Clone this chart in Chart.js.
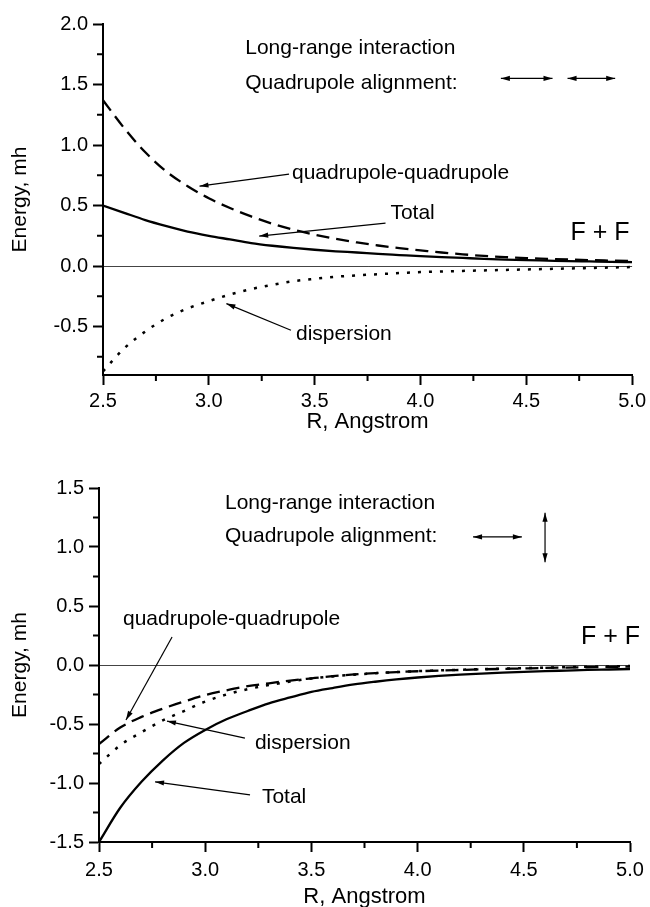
<!DOCTYPE html>
<html>
<head>
<meta charset="utf-8">
<script src="https://cdn.jsdelivr.net/npm/chart.js@4.4.0/dist/chart.umd.min.js"></script>
<style>
  html, body { margin: 0; padding: 0; background: #fff; overflow: hidden; }
  .panel { position: absolute; left: 0; width: 650px; }
  #topPanel { top: 0; height: 440px; }
  #bottomPanel { top: 440px; height: 470px; }
</style>
</head>
<body>
<div class="panel" id="topPanel"><canvas id="parallelChart"></canvas></div>
<div class="panel" id="bottomPanel"><canvas id="perpChart"></canvas></div>
<script>
/* global Chart */

// separation R in Angstrom
const rValues = [2.5, 2.6, 2.7, 2.8, 2.9, 3.0, 3.1, 3.2, 3.3, 3.4, 3.5, 3.6, 3.7,
  3.8, 3.9, 4.0, 4.1, 4.2, 4.3, 4.4, 4.5, 4.6, 4.7, 4.8, 4.9, 5.0];

const xTicks = [2.5, 3.0, 3.5, 4.0, 4.5, 5.0];
const xMinor = [2.75, 3.25, 3.75, 4.25, 4.75];
const topYTicks = [-0.5, 0.0, 0.5, 1.0, 1.5, 2.0];
const topYMinor = [-0.75, -0.25, 0.25, 0.75, 1.25, 1.75];
const bottomYTicks = [-1.5, -1.0, -0.5, 0.0, 0.5, 1.0, 1.5];
const bottomYMinor = [-1.25, -0.75, -0.25, 0.25, 0.75, 1.25];

// energies in mh, parallel quadrupoles
const parQuadQuad = [1.37, 1.14, 0.94, 0.78, 0.66, 0.56, 0.48, 0.41, 0.35, 0.30, 0.26, 0.225, 0.195,
  0.17, 0.148, 0.13, 0.112, 0.097, 0.084, 0.074, 0.066, 0.06, 0.054, 0.049, 0.045, 0.041];
const parDispersion = [-0.87, -0.68, -0.54, -0.43, -0.35, -0.29, -0.235, -0.19, -0.155, -0.125, -0.105, -0.088, -0.077,
  -0.067, -0.058, -0.05, -0.045, -0.04, -0.036, -0.032, -0.028, -0.024, -0.02, -0.016, -0.012, -0.008];
const parTotal = [0.50, 0.44, 0.38, 0.33, 0.285, 0.25, 0.22, 0.19, 0.168, 0.15, 0.135, 0.122, 0.112,
  0.10, 0.091, 0.082, 0.074, 0.067, 0.06, 0.054, 0.049, 0.045, 0.041, 0.038, 0.035, 0.033];

// energies in mh, perpendicular quadrupoles
const perpQuadQuad = [-0.67, -0.53, -0.44, -0.37, -0.31, -0.255, -0.215, -0.18, -0.155, -0.132, -0.113, -0.095, -0.08,
  -0.069, -0.06, -0.053, -0.047, -0.042, -0.037, -0.033, -0.029, -0.025, -0.022, -0.019, -0.016, -0.014];
const perpDispersion = [-0.84, -0.68, -0.57, -0.47, -0.39, -0.31, -0.25, -0.205, -0.17, -0.14, -0.115, -0.097, -0.082,
  -0.07, -0.06, -0.052, -0.046, -0.04, -0.035, -0.031, -0.027, -0.023, -0.019, -0.015, -0.012, -0.009];
const perpTotal = [-1.50, -1.21, -0.99, -0.81, -0.66, -0.55, -0.46, -0.39, -0.325, -0.275, -0.228, -0.195, -0.165,
  -0.142, -0.122, -0.106, -0.093, -0.082, -0.073, -0.065, -0.058, -0.052, -0.047, -0.042, -0.038, -0.034];

const FONT = '"Liberation Sans", Arial, Helvetica, sans-serif';
Chart.defaults.font.family = FONT;
Chart.defaults.color = "#000";

function points(values) {
  return rValues.map((r, i) => ({ x: r, y: values[i] }));
}

// short outward ticks between the labelled ones
const minorTicks = {
  id: "minorTicks",
  afterDraw(chart, args, opts) {
    const ctx = chart.ctx;
    const xs = chart.scales.x;
    const ys = chart.scales.y;
    ctx.save();
    ctx.strokeStyle = "#000";
    ctx.lineWidth = 2;
    ctx.beginPath();
    opts.x.forEach((v) => {
      const px = xs.getPixelForValue(v);
      ctx.moveTo(px, xs.top);
      ctx.lineTo(px, xs.top + 6);
    });
    opts.y.forEach((v) => {
      const py = ys.getPixelForValue(v);
      ctx.moveTo(ys.right, py);
      ctx.lineTo(ys.right - 6, py);
    });
    ctx.stroke();
    ctx.restore();
  },
};

function arrowHead(ctx, x0, y0, x1, y1) {
  const a = Math.atan2(y1 - y0, x1 - x0);
  const len = 9, half = 2.6;
  ctx.beginPath();
  ctx.moveTo(x1, y1);
  ctx.lineTo(x1 - len * Math.cos(a) + half * Math.sin(a), y1 - len * Math.sin(a) - half * Math.cos(a));
  ctx.lineTo(x1 - len * Math.cos(a) - half * Math.sin(a), y1 - len * Math.sin(a) + half * Math.cos(a));
  ctx.closePath();
  ctx.fill();
}

// text labels and pointer arrows, placed in data units
const notes = {
  id: "notes",
  afterDraw(chart, args, opts) {
    const ctx = chart.ctx;
    const px = (v) => chart.scales.x.getPixelForValue(v);
    const py = (v) => chart.scales.y.getPixelForValue(v);
    ctx.save();
    ctx.fillStyle = "#000";
    ctx.strokeStyle = "#000";
    ctx.textAlign = "left";
    ctx.textBaseline = "middle";
    opts.labels.forEach((l) => {
      ctx.font = (l.size || 21) + "px " + FONT;
      ctx.fillText(l.text, px(l.at[0]), py(l.at[1]));
    });
    ctx.lineWidth = 1.2;
    opts.arrows.forEach((a) => {
      const x0 = px(a.from[0]), y0 = py(a.from[1]);
      const x1 = px(a.to[0]), y1 = py(a.to[1]);
      ctx.beginPath();
      ctx.moveTo(x0, y0);
      ctx.lineTo(x1, y1);
      ctx.stroke();
      arrowHead(ctx, x0, y0, x1, y1);
      if (a.both) arrowHead(ctx, x1, y1, x0, y0);
    });
    ctx.restore();
  },
};

function makeChart(id, series, yRange, yTicks, yMinor, box, noteOpts) {
  const ctx = document.getElementById(id).getContext("2d");
  return new Chart(ctx, {
    type: "line",
    data: {
      datasets: [
        {
          label: "quadrupole-quadrupole",
          data: points(series[0]),
          borderColor: "#000",
          borderWidth: 2.3,
          borderDash: [13, 7],
        },
        {
          label: "dispersion",
          data: points(series[1]),
          borderColor: "#000",
          borderWidth: 2.5,
          borderDash: [3, 8],
        },
        {
          label: "Total",
          data: points(series[2]),
          borderColor: "#000",
          borderWidth: 2.3,
        },
      ],
    },
    options: {
      responsive: true,
      maintainAspectRatio: false,
      animation: false,
      cubicInterpolationMode: "monotone",
      elements: { point: { radius: 0 } },
      layout: { padding: box.padding },
      plugins: {
        legend: { display: false },
        tooltip: { enabled: false },
        minorTicks: { x: xMinor, y: yMinor },
        notes: noteOpts,
      },
      scales: {
        x: {
          type: "linear",
          min: 2.5,
          max: 5.0,
          afterBuildTicks: (s) => { s.ticks = xTicks.map((v) => ({ value: v })); },
          afterFit: (s) => { s.height = box.xHeight; },
          border: { display: true, color: "#000", width: 2 },
          grid: { drawOnChartArea: false, tickLength: 10, tickColor: "#000", tickWidth: 2 },
          ticks: { font: { size: 20 }, padding: box.xPad, maxRotation: 0, callback: (v) => v.toFixed(1) },
          title: { display: true, text: "R, Angstrom", font: { size: 22 }, padding: { top: 0, bottom: box.titlePad } },
        },
        y: {
          min: yRange[0],
          max: yRange[1],
          afterBuildTicks: (s) => { s.ticks = yTicks.map((v) => ({ value: v })); },
          afterFit: (s) => { s.width = box.yWidth; },
          border: { display: true, color: "#000", width: 2 },
          grid: {
            drawOnChartArea: true,
            color: (c) => (c.tick && c.tick.value === 0 ? "#444" : "rgba(0,0,0,0)"),
            lineWidth: 1,
            tickLength: 10,
            tickColor: "#000",
            tickWidth: 2,
          },
          ticks: { font: { size: 20 }, padding: 5, callback: (v) => v.toFixed(1) },
          title: { display: true, text: "Energy, mh", font: { size: 21 }, padding: { top: 8, bottom: 0 } },
        },
      },
    },
    plugins: [minorTicks, notes],
  });
}

makeChart("parallelChart", [parQuadQuad, parDispersion, parTotal], [-0.9, 2.0], topYTicks, topYMinor,
  { padding: { top: 24, right: 15, bottom: 5, left: 0 }, xHeight: 60, yWidth: 103, xPad: 4, titlePad: 0 },
  {
    labels: [
      { text: "Long-range interaction", at: [3.172, 1.80] },
      { text: "Quadrupole alignment:", at: [3.172, 1.51] },
      { text: "quadrupole-quadrupole", at: [3.393, 0.77] },
      { text: "Total", at: [3.858, 0.44] },
      { text: "dispersion", at: [3.412, -0.56] },
      { text: "F + F", at: [4.709, 0.27], size: 25 },
    ],
    arrows: [
      { from: [4.38, 1.55], to: [4.624, 1.55], both: true },
      { from: [4.695, 1.55], to: [4.92, 1.55], both: true },
      { from: [3.379, 0.76], to: [2.956, 0.66] },
      { from: [3.835, 0.355], to: [3.238, 0.248] },
      { from: [3.388, -0.53], to: [3.083, -0.31] },
    ],
  });

makeChart("perpChart", [perpQuadQuad, perpDispersion, perpTotal], [-1.5, 1.5], bottomYTicks, bottomYMinor,
  { padding: { top: 48, right: 20, bottom: 0, left: 0 }, xHeight: 68, yWidth: 99, xPad: 6, titlePad: 0 },
  {
    labels: [
      { text: "Long-range interaction", at: [3.093, 1.37] },
      { text: "Quadrupole alignment:", at: [3.093, 1.09] },
      { text: "quadrupole-quadrupole", at: [2.613, 0.39] },
      { text: "dispersion", at: [3.234, -0.66] },
      { text: "Total", at: [3.267, -1.12] },
      { text: "F + F", at: [4.769, 0.237], size: 25 },
    ],
    arrows: [
      { from: [4.261, 1.085], to: [4.491, 1.085], both: true },
      { from: [4.60, 1.29], to: [4.60, 0.87], both: true },
      { from: [2.844, 0.237], to: [2.627, -0.466] },
      { from: [3.187, -0.62], to: [2.82, -0.475] },
      { from: [3.211, -1.10], to: [2.764, -0.99] },
    ],
  });
</script>
</body>
</html>
